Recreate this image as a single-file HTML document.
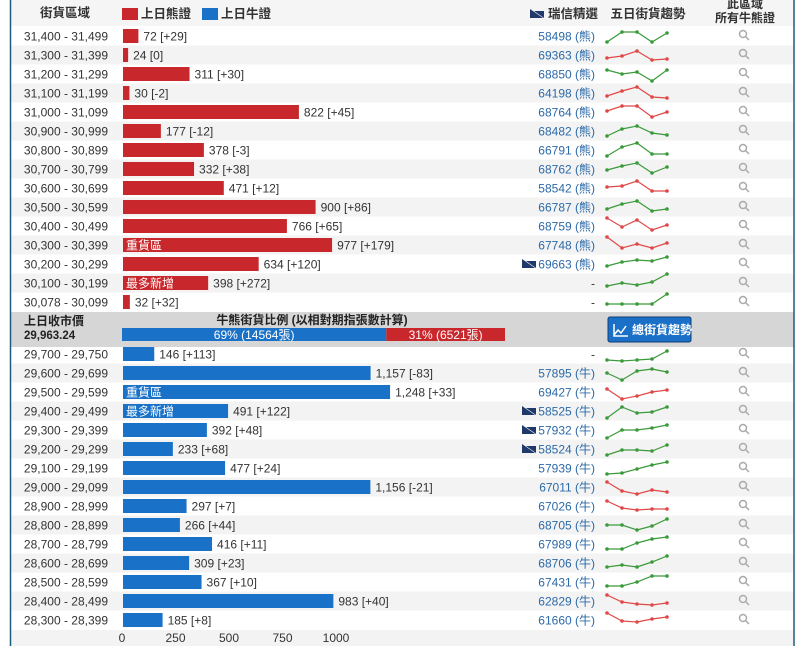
<!DOCTYPE html>
<html><head><meta charset="utf-8">
<style>
body{margin:0;background:#fff;font-family:"Liberation Sans","Noto Sans CJK TC",sans-serif;}
svg{display:block}
text{font-family:"Liberation Sans","Noto Sans CJK TC",sans-serif;}
</style></head>
<body>
<svg id="chart" width="801" height="646" viewBox="0 0 801 646" xmlns="http://www.w3.org/2000/svg">
<rect x="10" y="0" width="784" height="26" fill="#f5f5f5"/>
<text x="65" y="17" font-size="12.5" font-weight="bold" text-anchor="middle" fill="#333">街貨區域</text>
<rect x="122" y="8" width="16" height="12" fill="#c8282c"/>
<text x="141" y="18" font-size="12.5" font-weight="bold" fill="#333">上日熊證</text>
<rect x="202" y="8" width="16" height="12" fill="#1a72c8"/>
<text x="221" y="18" font-size="12.5" font-weight="bold" fill="#333">上日牛證</text>
<path d="M530,9 L543,18 L530,18 Z M534,11 L544,11 L544,18Z" fill="#1f3a6a"/>
<text x="548" y="18" font-size="12.5" font-weight="bold" fill="#333">瑞信精選</text>
<text x="648" y="18" font-size="12.5" font-weight="bold" fill="#333" text-anchor="middle">五日街貨趨勢</text>
<text x="745" y="8" font-size="12" font-weight="bold" fill="#333" text-anchor="middle">此區域</text>
<text x="745" y="22" font-size="12" font-weight="bold" fill="#333" text-anchor="middle">所有牛熊證</text>
<g id="rows"></g>
<rect x="10" y="312" width="784" height="35" fill="#d6d6d6"/>
<text x="24" y="325" font-size="12" font-weight="bold" fill="#222">上日收市價</text>
<text x="24" y="339" font-size="11.5" font-weight="bold" fill="#222">29,963.24</text>
<text x="312" y="324" font-size="12" font-weight="bold" fill="#222" text-anchor="middle">牛熊街貨比例 (以相對期指張數計算)</text>
<g id="ratio"></g>
<g>
<rect x="608" y="317" width="83" height="25" rx="2" fill="#1a6fc6" stroke="#0d3f7a"/>
<path d="M614,335 L618,330 L621,333 L626,326 M614,324 L614,336 L628,336" stroke="#fff" fill="none" stroke-width="1.5"/>
<text x="632" y="334" font-size="12" font-weight="bold" fill="#fff">總街貨趨勢</text>
</g>
<g id="axis"></g>
<line x1="10.5" y1="0" x2="10.5" y2="646" stroke="#1d5c7a" stroke-width="1.5"/>
<line x1="794" y1="0" x2="794" y2="646" stroke="#1d5c7a" stroke-width="1.5"/>
</svg>
<script>
const bearRanges=["31,400 - 31,499","31,300 - 31,399","31,200 - 31,299","31,100 - 31,199","31,000 - 31,099","30,900 - 30,999","30,800 - 30,899","30,700 - 30,799","30,600 - 30,699","30,500 - 30,599","30,400 - 30,499","30,300 - 30,399","30,200 - 30,299","30,100 - 30,199","30,078 - 30,099"];
const bearValues=[72,24,311,30,822,177,378,332,471,900,766,977,634,398,32];
const bearChanges=["+29","0","+30","-2","+45","-12","-3","+38","+12","+86","+65","+179","+120","+272","+32"];
const bearCodes=["58498","69363","68850","64198","68764","68482","66791","68762","58542","66787","68759","67748","69663","-","-"];
const bearTags=["","","","","","","","","","","","重貨區","","最多新增",""];
const bearUbs=[0,0,0,0,0,0,0,0,0,0,0,0,1,0,0];
const bearTrend=[[-6,4,4,-6,3],[-3,-1,4,-5,-4],[4,0,2,-7,4],[-3,2,6,-4,-5],[1,6,6,-5,0],[-5,2,5,-2,-4],[-6,3,7,-4,-4],[-1,3,6,-4,2],[1,2,7,-3,-3],[-2,3,6,-4,-2],[8,-1,6,-4,1],[8,-3,1,-3,2],[-2,2,4,3,7],[-3,0,-2,1,9],[-2,-2,-2,-2,8]];
const bearTrendUp=[1,0,1,0,0,1,1,1,0,1,0,0,1,1,1];
const bullRanges=["29,700 - 29,750","29,600 - 29,699","29,500 - 29,599","29,400 - 29,499","29,300 - 29,399","29,200 - 29,299","29,100 - 29,199","29,000 - 29,099","28,900 - 28,999","28,800 - 28,899","28,700 - 28,799","28,600 - 28,699","28,500 - 28,599","28,400 - 28,499","28,300 - 28,399"];
const bullValues=[146,1157,1248,491,392,233,477,1156,297,266,416,309,367,983,185];
const bullChanges=["+113","-83","+33","+122","+48","+68","+24","-21","+7","+44","+11","+23","+10","+40","+8"];
const bullCodes=["-","57895","69427","58525","57932","58524","57939","67011","67026","68705","67989","68706","67431","62829","61660"];
const bullTags=["","","重貨區","最多新增","","","","","","","","","","",""];
const bullUbs=[0,0,0,1,1,1,0,0,0,0,0,0,0,0,0];
const bullTrend=[[-6,-7,-6,-5,3],[0,-7,2,4,1],[3,-7,-4,0,2],[-7,4,-2,-1,4],[-8,0,0,2,5],[-6,-1,-1,-2,4],[-6,-5,-1,3,6],[5,-4,-7,-3,-5],[5,-2,-4,-3,-3],[0,0,-5,-1,6],[-5,-5,1,5,7],[-4,-2,-4,1,7],[-4,-4,0,6,6],[6,-1,-3,-4,-2],[7,-1,-2,1,3]];
const bullTrendUp=[1,1,0,1,1,1,1,0,0,1,1,1,1,0,0];
const ratioBull=69, ratioBullCount=14564, ratioBear=31, ratioBearCount=6521;
const axisTicks=[0,250,500,750,1000];

const NS="http://www.w3.org/2000/svg";
const X0=123, SCALE=214/1000;
const xs=v=>X0+v*SCALE;
const rows=document.getElementById('rows');
function mk(tag,attrs,parent,txt){const e=document.createElementNS(NS,tag);for(const k in attrs)e.setAttribute(k,attrs[k]);if(txt!==undefined)e.textContent=txt;parent.appendChild(e);return e;}
function drawSection(ranges,vals,chg,codes,tags,ubs,trend,up,y0,color,suffix,kind){
 ranges.forEach((r,i)=>{
  const cy=y0+i*19;
  const g=mk('g',{},rows);
  
  
  if(i%2===1)mk('rect',{x:11,y:cy-9.5,width:782,height:19,fill:'#f3f3f3'},g);
  const lt=mk('text',{x:108,y:cy+4.5,'font-size':12,'text-anchor':'end',fill:'#333'},g,r);
  
  
  const b=mk('rect',{x:X0,y:cy-7,width:Math.max(1,xs(vals[i])-X0),height:14,fill:color},g);
  
  
  if(tags[i]){const t=mk('text',{x:X0+3,y:cy+4.5,'font-size':12,fill:'#fff'},g,tags[i]);
   
   }
  const v=mk('text',{x:xs(vals[i])+5,y:cy+4.5,'font-size':12,fill:'#333'},g,vals[i].toLocaleString('en-US')+' ['+chg[i]+']');
  
  
  const c=mk('text',{x:595,y:cy+4.5,'font-size':12,'text-anchor':'end',fill:codes[i]==='-'?'#333':'#2c6aa8'},g,codes[i]==='-'?'-':codes[i]+' ('+suffix+')');
  
  
  if(ubs[i]){const p=mk('path',{d:`M522,${cy-5} L535,${cy+4} L522,${cy+4} Z M526,${cy-3} L536,${cy-3} L536,${cy+4} Z`,fill:'#1f3a6a'},g);
   
   }
  const col=up[i]?'#3a9a3a':'#e04848';
  const pts=trend[i].map((t,k)=>[607+k*15,cy-t]);
  const pl=mk('polyline',{points:pts.map(p=>p.join(',')).join(' '),fill:'none',stroke:col,'stroke-width':1.2},g);
  
  
  pts.forEach(p=>{const d=mk('circle',{cx:p[0],cy:p[1],r:1.8,fill:col},g);
   
   });
  const m=mk('g',{stroke:'#aaa','stroke-width':1.5,fill:'none'},g);
  
  
  mk('circle',{cx:743,cy:cy-2,r:3.5},m);
  mk('line',{x1:745.5,y1:cy+0.5,x2:749,y2:cy+4},m);
 });
}
drawSection(bearRanges,bearValues,bearChanges,bearCodes,bearTags,bearUbs,bearTrend,bearTrendUp,36,'#c8282c','熊','bear');
drawSection(bullRanges,bullValues,bullChanges,bullCodes,bullTags,bullUbs,bullTrend,bullTrendUp,354,'#1a72c8','牛','bull');
const ratio=document.getElementById('ratio');
const RX=122,RW=383,split=RX+RW*ratioBull/(ratioBull+ratioBear);
const rb=mk('rect',{x:RX,y:328,width:split-RX,height:13,fill:'#1a72c8'},ratio);


const rr=mk('rect',{x:split,y:328,width:RX+RW-split,height:13,fill:'#c8282c'},ratio);


const t1=mk('text',{x:(RX+split)/2,y:339,'font-size':12,'text-anchor':'middle',fill:'#fff'},ratio,ratioBull+'% ('+ratioBullCount+'張)');


const t2=mk('text',{x:(split+RX+RW)/2,y:339,'font-size':12,'text-anchor':'middle',fill:'#fff'},ratio,ratioBear+'% ('+ratioBearCount+'張)');


const axis=document.getElementById('axis');
mk('rect',{x:11,y:630,width:782,height:16,fill:'#f3f3f3'},axis);
axisTicks.forEach(t=>{const e=mk('text',{x:xs(t)-1,y:642,'font-size':12,'text-anchor':'middle',fill:'#333'},axis,String(t));
 
 });
</script>
</body></html>
